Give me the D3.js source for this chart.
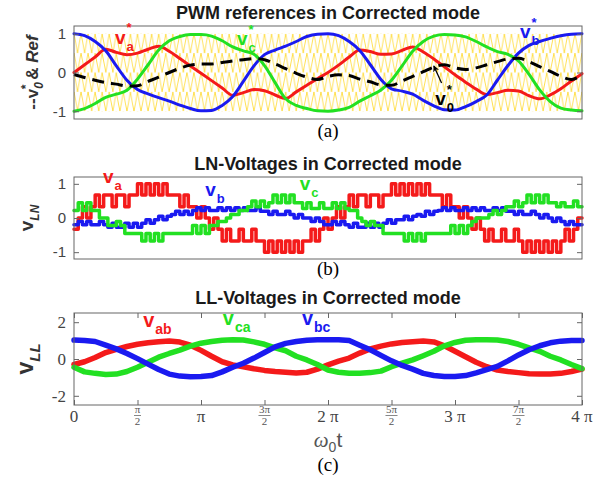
<!DOCTYPE html>
<html>
<head>
<meta charset="utf-8">
<script src="https://cdn.jsdelivr.net/npm/d3@7"></script>
<style>
  body { margin: 0; background: #fff; }
</style>
</head>
<body>
<div class="chart"></div>
<script>
// ---------- data ----------
// sample positions in degrees of w0t, 0..720 (= 0..4pi)
var refDeg = d3.range(0, 721, 15);
var lnDeg = d3.range(0, 721, 6);
var llDeg = d3.range(0, 721, 15);

// (a) PWM references
var refA = [0.0, 0.2, 0.4, 0.6, 0.52, 0.46, 0.5, 0.6, 0.68, 0.55, 0.36, 0.17, -0.02, -0.21, -0.4, -0.59, -0.52, -0.44, -0.47, -0.58, -0.67, -0.5, -0.33, -0.16,
  0.0, 0.19, 0.4, 0.58, 0.54, 0.47, 0.48, 0.57, 0.66, 0.53, 0.35, 0.15, -0.06, -0.25, -0.43, -0.57, -0.52, -0.46, -0.48, -0.6, -0.68, -0.58, -0.42, -0.22, -0.03];
var refB = [1.0, 0.95, 0.8, 0.56, 0.17, -0.2, -0.44, -0.55, -0.65, -0.74, -0.84, -0.93, -0.99, -0.98, -0.85, -0.62, -0.23, 0.17, 0.46, 0.58, 0.68, 0.8, 0.93, 0.99,
  1.0, 0.95, 0.8, 0.57, 0.2, -0.18, -0.42, -0.48, -0.56, -0.72, -0.86, -0.96, -0.97, -0.88, -0.75, -0.58, -0.2, 0.18, 0.5, 0.7, 0.8, 0.88, 0.95, 0.99, 1.0];
var refC = [-1.0, -0.93, -0.8, -0.64, -0.56, -0.46, -0.17, 0.2, 0.58, 0.82, 0.93, 0.98, 0.98, 0.94, 0.82, 0.66, 0.56, 0.47, 0.18, -0.26, -0.68, -0.85, -0.93, -0.99,
  -1.0, -0.97, -0.9, -0.74, -0.6, -0.45, -0.2, 0.17, 0.55, 0.8, 0.94, 0.98, 0.97, 0.92, 0.8, 0.66, 0.54, 0.47, 0.3, -0.05, -0.45, -0.75, -0.92, -0.97, -0.99];
var refZero = [-0.05, -0.13, -0.2, -0.26, -0.3, -0.35, -0.34, -0.23, -0.12, 0.0, 0.11, 0.19, 0.22, 0.22, 0.26, 0.3, 0.33, 0.36, 0.33, 0.22, 0.1, -0.02, -0.12, -0.18,
  -0.1, -0.06, -0.08, -0.17, -0.24, -0.32, -0.33, -0.22, -0.1, 0.02, 0.14, 0.2, 0.12, 0.08, 0.12, 0.2, 0.28, 0.35, 0.37, 0.28, 0.15, 0.03, -0.1, -0.18, -0.06];

// (b) LN voltages, one level per 6 degree slot
var lnA = [
  -0.33, 0, 0.33, 0, 0.33, 0.67, 0.33, 0.67, 0.67, 0.33,
  0.67, 0.67, 0.33, 0.67, 0.67, 1, 0.67, 1, 0.67, 1,
  0.67, 1, 0.67, 0.67, 0.67, 0.33, 0.67, 0.33, 0.33, 0,
  0.33, 0, -0.33, 0, -0.33, -0.67, -0.33, -0.67, -0.67, -0.33,
  -0.67, -0.67, -0.33, -0.67, -0.67, -1, -0.67, -1, -0.67, -1,
  -0.67, -1, -0.67, -1, -0.67, -0.67, -0.33, -0.67, -0.33, 0,
  -0.33, 0, 0.33, 0, 0.33, 0.67, 0.33, 0.67, 0.67, 0.33,
  0.67, 0.67, 0.33, 0.67, 0.67, 1, 0.67, 1, 0.67, 1,
  0.67, 1, 0.67, 1, 0.67, 0.67, 0.67, 0.33, 0.67, 0.33,
  0.33, 0, 0.33, 0, -0.33, 0, -0.33, -0.67, -0.33, -0.67,
  -0.67, -0.33, -0.67, -0.67, -0.33, -0.67, -1, -0.67, -1, -0.67,
  -1, -0.67, -1, -0.67, -1, -0.67, -0.33, -0.67, -0.33, 0,
  0];
var lnB = [
  -0.2, -0.1, -0.2, -0.1, -0.2, -0.2, -0.1, -0.2, -0.27, -0.15,
  -0.27, -0.27, -0.15, -0.27, -0.15, -0.27, -0.15, -0.05, -0.15, -0.05,
  0.05, -0.05, 0.05, 0.1, 0.2, 0.1, 0.2, 0.1, 0.22, 0.3,
  0.22, 0.3, 0.22, 0.22, 0.3, 0.22, 0.3, 0.22, 0.3, 0.22,
  0.3, 0.22, 0.22, 0.3, 0.2, 0.2, 0.1, 0.2, 0.1, 0.1,
  0.2, 0.1, 0.0, 0.1, 0.0, 0.0, -0.1, 0.0, -0.1, -0.2,
  -0.2, -0.1, -0.2, -0.1, -0.2, -0.27, -0.15, -0.27, -0.27, -0.15,
  -0.27, -0.15, -0.27, -0.15, -0.05, -0.15, -0.05, -0.05, 0.05, -0.05,
  0.05, 0.1, 0.05, 0.2, 0.1, 0.2, 0.22, 0.3, 0.22, 0.3,
  0.22, 0.22, 0.3, 0.22, 0.3, 0.22, 0.3, 0.22, 0.22, 0.3,
  0.22, 0.3, 0.2, 0.2, 0.1, 0.2, 0.1, 0.1, 0.2, 0.1,
  0.0, 0.1, 0.0, -0.1, 0.0, -0.1, -0.2, -0.1, -0.2, -0.2,
  -0.2];
var lnC = [
  0.22, 0.45, 0.22, 0.45, 0.22, 0.22, 0.0, 0.0, -0.22, -0.22,
  -0.1, -0.22, -0.45, -0.45, -0.45, -0.45, -0.67, -0.45, -0.67, -0.45,
  -0.67, -0.45, -0.45, -0.45, -0.45, -0.45, -0.45, -0.45, -0.22, -0.45,
  -0.22, -0.45, -0.22, -0.22, -0.1, -0.1, 0.0, 0.1, 0.1, 0.22,
  0.22, 0.33, 0.5, 0.33, 0.5, 0.33, 0.45, 0.67, 0.45, 0.67,
  0.45, 0.67, 0.45, 0.45, 0.28, 0.45, 0.28, 0.28, 0.45, 0.28,
  0.28, 0.45, 0.28, 0.45, 0.28, 0.22, 0.22, 0.0, -0.1, -0.22,
  -0.1, -0.22, -0.22, -0.45, -0.45, -0.45, -0.45, -0.45, -0.67, -0.45,
  -0.67, -0.45, -0.67, -0.45, -0.45, -0.45, -0.45, -0.45, -0.45, -0.22,
  -0.45, -0.22, -0.45, -0.22, -0.1, 0.0, 0.0, 0.0, 0.1, 0.22,
  0.1, 0.22, 0.33, 0.33, 0.5, 0.33, 0.45, 0.67, 0.45, 0.67,
  0.45, 0.67, 0.45, 0.45, 0.33, 0.45, 0.33, 0.33, 0.5, 0.33,
  0.33];

// (c) LL voltages
var llAB = [-0.3, -0.15, 0.08, 0.35, 0.52, 0.68, 0.8, 0.88, 0.94, 0.98, 0.92, 0.75, 0.47, 0.15, -0.15, -0.32, -0.42, -0.53, -0.62, -0.68, -0.72, -0.76, -0.72, -0.55,
  -0.32, -0.12, 0.05, 0.32, 0.55, 0.7, 0.82, 0.9, 0.94, 0.98, 0.93, 0.72, 0.42, 0.12, -0.18, -0.42, -0.6, -0.68, -0.74, -0.8, -0.82, -0.82, -0.78, -0.68, -0.55];
var llCA = [-0.45, -0.7, -0.78, -0.84, -0.82, -0.68, -0.45, -0.18, 0.1, 0.3, 0.48, 0.7, 0.86, 0.95, 1.02, 1.05, 1.03, 0.93, 0.8, 0.6, 0.45, 0.15, -0.05, -0.3,
  -0.6, -0.72, -0.78, -0.78, -0.74, -0.66, -0.42, -0.22, -0.05, 0.18, 0.42, 0.72, 0.9, 1.02, 1.05, 1.05, 1.03, 0.95, 0.8, 0.6, 0.42, 0.15, -0.05, -0.3, -0.52];
var llBC = [1.03, 1.0, 0.95, 0.75, 0.55, 0.3, 0.02, -0.28, -0.57, -0.82, -0.93, -0.96, -0.95, -0.9, -0.7, -0.45, -0.23, 0.05, 0.35, 0.66, 0.85, 0.95, 1.02, 1.05,
  1.05, 1.05, 1.0, 0.75, 0.5, 0.2, -0.1, -0.35, -0.55, -0.78, -0.9, -0.95, -0.95, -0.9, -0.75, -0.58, -0.4, -0.1, 0.22, 0.5, 0.72, 0.88, 0.97, 1.0, 1.0];

// x ticks of panel (c), in multiples of pi
var xTickPi = [0, 0.5, 1, 1.5, 2, 2.5, 3, 3.5, 4];
var xTickText = ['0', '\u03c0/2', '\u03c0', '3\u03c0/2', '2 \u03c0', '5\u03c0/2', '3 \u03c0', '7\u03c0/2', '4 \u03c0'];

// ---------- drawing ----------
var sans = '"Liberation Sans", Arial, sans-serif';
var serif = '"Liberation Serif", "Times New Roman", serif';
var RED = '#f41a1a', BLUE = '#1a1af0', GREEN = '#22e022', YELLOW = '#ffd81f';

var svg = d3.select('.chart')
  .append('svg')
    .attr('width', 605)
    .attr('height', 489);

var x = d3.scaleLinear().domain([0, 4 * Math.PI]).range([74, 582]);
var rad = d => d * Math.PI / 180;
var cx = (x.range()[0] + x.range()[1]) / 2;

var yA = d3.scaleLinear().domain([-1.2, 1.2]).range([119, 26]);
var yB = d3.scaleLinear().domain([-1.2, 1.2]).range([259, 177]);
var yC = d3.scaleLinear().domain([-2.5, 2.5]).range([405, 313]);

function frame(yS, ticks, font, fsize, withX) {
  var g = svg.append('g');
  var gl = g.append('g').attr('transform', `translate(${x.range()[0]},0)`)
    .call(d3.axisLeft(yS).tickValues(ticks).tickSize(-5).tickPadding(8).tickFormat(d => String(d)));
  g.append('g').attr('transform', `translate(${x.range()[1]},0)`)
    .call(d3.axisRight(yS).tickValues(ticks).tickSize(-5).tickFormat(''));
  if (withX) {
    g.append('g').attr('transform', `translate(0,${yS.range()[0]})`)
      .call(d3.axisBottom(x).tickValues(xTickPi.map(p => p * Math.PI)).tickSize(-5).tickFormat(''));
    g.append('g').attr('transform', `translate(0,${yS.range()[1]})`)
      .call(d3.axisTop(x).tickValues(xTickPi.map(p => p * Math.PI)).tickSize(-5).tickFormat(''));
  }
  g.selectAll('.domain').remove();
  g.selectAll('.tick line').attr('stroke', '#666');
  gl.selectAll('text').style('font-family', font).style('font-size', fsize + 'px').attr('fill', '#444');
  g.append('rect')
    .attr('x', x.range()[0]).attr('y', yS.range()[1])
    .attr('width', x.range()[1] - x.range()[0]).attr('height', yS.range()[0] - yS.range()[1])
    .attr('fill', 'none').attr('stroke', '#666').attr('stroke-width', 1);
}

function title(txt, y) {
  svg.append('text').attr('x', cx).attr('y', y).attr('text-anchor', 'middle')
    .style('font-family', sans).style('font-weight', 'bold').style('font-size', '18px')
    .attr('fill', '#1a1a1a').text(txt);
}

function caption(txt, y) {
  svg.append('text').attr('x', cx).attr('y', y).attr('text-anchor', 'middle')
    .style('font-family', serif).style('font-size', '19px').attr('fill', '#000').text(txt);
}

// v with subscript / superscript stacked, placed in data coordinates
function sym(yS, deg, val, base, sub, sup, color, size) {
  var px = x(rad(deg)), py = yS(val);
  var t = svg.append('text').attr('x', px).attr('y', py).attr('fill', color)
    .style('font-family', sans).style('font-weight', 'bold').style('font-size', size + 'px').text(base);
  var w = t.node().getComputedTextLength();
  var s = Math.round(size * 0.7);
  if (sub) svg.append('text').attr('x', px + w + 1).attr('y', py + size * 0.36).attr('fill', color)
    .style('font-family', sans).style('font-weight', 'bold').style('font-size', s + 'px').text(sub);
  if (sup) svg.append('text').attr('x', px + w + 1).attr('y', py - size * 0.6).attr('fill', color)
    .style('font-family', sans).style('font-weight', 'bold').style('font-size', s + 'px').text(sup);
}

function trace(yS, degs, vals, color, width, curve, dash) {
  var line = d3.line()
    .x((v, i) => x(rad(degs[i])))
    .y(v => yS(v))
    .curve(curve);
  svg.append('path')
    .datum(vals)
    .attr('d', line)
    .attr('fill', 'none')
    .attr('stroke', color)
    .attr('stroke-width', width)
    .attr('stroke-linejoin', 'round')
    .attr('stroke-linecap', dash ? 'butt' : 'round')
    .attr('stroke-dasharray', dash || null);
}

// ----- panel (a) -----
var defs = svg.append('defs');
var cw = x(rad(10)) - x(0), ch = yA(0.5) - yA(1);
defs.append('pattern')
    .attr('id', 'carrier')
    .attr('patternUnits', 'userSpaceOnUse')
    .attr('x', x(0)).attr('y', yA(1))
    .attr('width', cw).attr('height', ch)
  .append('path')
    .attr('d', `M${-cw / 2},${ch}L0,0L${cw / 2},${ch}L${cw},0L${1.5 * cw},${ch}`)
    .attr('fill', 'none').attr('stroke', YELLOW).attr('stroke-width', 0.75);
defs.append('marker')
    .attr('id', 'head').attr('viewBox', '0 0 10 10')
    .attr('refX', 9).attr('refY', 5)
    .attr('markerWidth', 5).attr('markerHeight', 5)
    .attr('orient', 'auto')
  .append('path').attr('d', 'M0,0L10,5L0,10L3,5Z').attr('fill', '#000');

svg.append('rect')
  .attr('x', x(0)).attr('y', yA(1))
  .attr('width', x(4 * Math.PI) - x(0)).attr('height', yA(-1) - yA(1))
  .attr('fill', 'url(#carrier)');

trace(yA, refDeg, refA, RED, 3, d3.curveMonotoneX);
trace(yA, refDeg, refB, BLUE, 3, d3.curveMonotoneX);
trace(yA, refDeg, refC, GREEN, 3, d3.curveMonotoneX);
trace(yA, refDeg, refZero, '#000', 3, d3.curveMonotoneX, '12,7');
frame(yA, [-1, 0, 1], sans, 15, false);

sym(yA, 58, 0.74, 'v', 'a', '*', RED, 19);
sym(yA, 231, 0.71, 'v', 'c', '*', GREEN, 19);
sym(yA, 632, 0.89, 'v', 'b', '*', BLUE, 19);
sym(yA, 512, -0.84, 'v', '0', '*', '#000', 19);
svg.append('line')
  .attr('x1', x(rad(521))).attr('y1', yA(-0.27))
  .attr('x2', x(rad(510))).attr('y2', yA(0.17))
  .attr('stroke', '#000').attr('stroke-width', 1.3)
  .attr('marker-end', 'url(#head)');

title('PWM references in Corrected mode', 19);
caption('(a)', 137);

var la = svg.append('text')
  .attr('transform', `translate(38,${(yA.range()[0] + yA.range()[1]) / 2}) rotate(-90)`)
  .attr('text-anchor', 'middle').attr('fill', '#333')
  .style('font-family', sans).style('font-weight', 'bold').style('font-size', '17px');
la.append('tspan').text('--v');
la.append('tspan').attr('dy', 5).style('font-size', '12px').style('font-style', 'italic').text('0');
la.append('tspan').attr('dx', -7).attr('dy', -13).style('font-size', '12px').text('*');
la.append('tspan').attr('dy', 8).text(' & ');
la.append('tspan').style('font-style', 'italic').text('Ref');

// ----- panel (b) -----
trace(yB, lnDeg, lnA, RED, 3.5, d3.curveStepAfter);
trace(yB, lnDeg, lnB, BLUE, 3.5, d3.curveStepAfter);
trace(yB, lnDeg, lnC, GREEN, 3.5, d3.curveStepAfter);
frame(yB, [-1, 0, 1], sans, 15, false);

sym(yB, 41, 1.02, 'v', 'a', null, RED, 19);
sym(yB, 186, 0.64, 'v', 'b', null, BLUE, 19);
sym(yB, 320, 0.82, 'v', 'c', null, GREEN, 19);

title('LN-Voltages in Corrected mode', 170);
caption('(b)', 275);

var lb = svg.append('text')
  .attr('transform', `translate(33,${(yB.range()[0] + yB.range()[1]) / 2}) rotate(-90)`)
  .attr('text-anchor', 'middle').attr('fill', '#333')
  .style('font-family', sans).style('font-weight', 'bold').style('font-size', '19px');
lb.append('tspan').text('v');
lb.append('tspan').attr('dy', 6).style('font-size', '12px').style('font-style', 'italic').text('LN');

// ----- panel (c) -----
trace(yC, llDeg, llAB, RED, 5.5, d3.curveLinear);
trace(yC, llDeg, llCA, GREEN, 5.5, d3.curveLinear);
trace(yC, llDeg, llBC, BLUE, 5.5, d3.curveLinear);
frame(yC, [-2, 0, 2], serif, 17, true);

sym(yC, 98, 1.74, 'v', 'ab', null, RED, 20);
sym(yC, 211, 1.85, 'v', 'ca', null, GREEN, 20);
sym(yC, 323, 1.85, 'v', 'bc', null, BLUE, 20);

// x tick labels (pi fractions)
xTickPi.forEach(function (p, i) {
  var px = x(p * Math.PI);
  var txt = xTickText[i];
  if (txt.indexOf('/') < 0) {
    svg.append('text').attr('x', px).attr('y', 422).attr('text-anchor', 'middle')
      .style('font-family', serif).style('font-size', '17px').attr('fill', '#444').text(txt);
  } else {
    var parts = txt.split('/');
    var num = svg.append('text').attr('x', px).attr('y', 413).attr('text-anchor', 'middle')
      .style('font-family', serif).style('font-size', '11px').attr('fill', '#555').text(parts[0]);
    var nw = Math.max(num.node().getComputedTextLength(), 6);
    svg.append('line').attr('x1', px - nw / 2 - 0.5).attr('x2', px + nw / 2 + 0.5)
      .attr('y1', 415.5).attr('y2', 415.5).attr('stroke', '#555').attr('stroke-width', 0.7);
    svg.append('text').attr('x', px).attr('y', 425).attr('text-anchor', 'middle')
      .style('font-family', serif).style('font-size', '11px').attr('fill', '#555').text(parts[1]);
  }
});

var xl = svg.append('text').attr('x', cx).attr('y', 447).attr('text-anchor', 'middle')
  .attr('fill', '#555').style('font-size', '21px');
xl.append('tspan').style('font-family', serif).style('font-style', 'italic').text('\u03c9');
xl.append('tspan').attr('dy', 5).style('font-family', sans).style('font-size', '14px').text('0');
xl.append('tspan').attr('dy', -5).style('font-family', sans).text('t');

title('LL-Voltages in Corrected mode', 304);
caption('(c)', 471);

var lc = svg.append('text')
  .attr('transform', `translate(33,${(yC.range()[0] + yC.range()[1]) / 2}) rotate(-90)`)
  .attr('text-anchor', 'middle').attr('fill', '#333')
  .style('font-family', sans).style('font-weight', 'bold').style('font-size', '23px');
lc.append('tspan').text('v');
lc.append('tspan').attr('dy', 7).style('font-size', '15px').style('font-style', 'italic').text('LL');
</script>
</body>
</html>
